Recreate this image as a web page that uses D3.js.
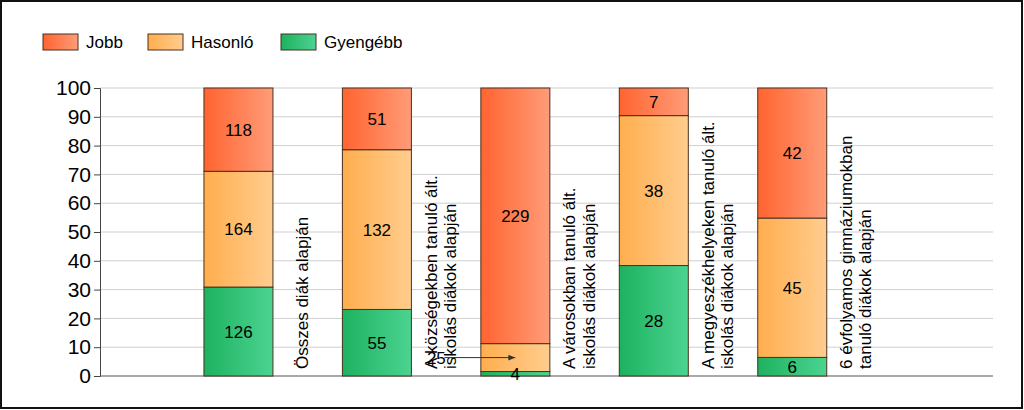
<!DOCTYPE html>
<html><head><meta charset="utf-8">
<script src="https://cdn.jsdelivr.net/npm/d3@7"></script>
<style>
html,body{margin:0;padding:0;background:#fff;}
svg{display:block;font-family:"Liberation Sans",Arial,sans-serif;}
</style></head>
<body><svg id="c" width="1024" height="410"></svg>
<script>
const categories = [
  ["Összes diák alapján"],
  ["A községekben tanuló ált.", "iskolás diákok alapján"],
  ["A városokban tanuló ált.", "iskolás diákok alapján"],
  ["A megyeszékhelyeken tanuló ált.", "iskolás diákok alapján"],
  ["6 évfolyamos gimnáziumokban", "tanuló diákok alapján"]
];
const seriesNames = ["Jobb", "Hasonló", "Gyengébb"];
const jobb     = [118, 51, 229, 7, 42];
const hasonlo  = [164, 132, 25, 38, 45];
const gyengebb = [126, 55, 4, 28, 6];
const yTicks = [0, 10, 20, 30, 40, 50, 60, 70, 80, 90, 100];
// which segment labels are called out with an arrow: [category index, series key]
const callouts = [[2, "hasonlo"]];

const colors = {
  jobb: ["#ff6430", "#ff9c78"],
  hasonlo: ["#ffae4e", "#ffcd8e"],
  gyengebb: ["#1db260", "#4cd391"]
};

const svg = d3.select("#c");
const defs = svg.append("defs");
Object.entries(colors).forEach(([k, c]) => {
  const g = defs.append("linearGradient").attr("id", "g_" + k)
    .attr("x1", "0%").attr("x2", "100%").attr("y1", "0%").attr("y2", "0%");
  g.append("stop").attr("offset", "0%").attr("stop-color", c[0]);
  g.append("stop").attr("offset", "100%").attr("stop-color", c[1]);
});
const arrowM = defs.append("marker").attr("id", "arr").attr("viewBox", "0 0 10 10")
  .attr("refX", 10).attr("refY", 5).attr("markerWidth", 7).attr("markerHeight", 7)
  .attr("markerUnits", "userSpaceOnUse").attr("orient", "auto");
arrowM.append("path").attr("d", "M0,1 L10,5 L0,9 Z").attr("fill", "#333");

// frame
svg.append("rect").attr("x", 1).attr("y", 1).attr("width", 1021).attr("height", 407)
  .attr("fill", "#fff").attr("stroke", "#111").attr("stroke-width", 2);

const plotL = 100, plotR = 993, plotT = 88, plotB = 376;
const x = d3.scaleLinear().domain([0, 6.45]).range([plotL, plotR]);
const y = d3.scaleLinear().domain([0, 100]).range([plotB, plotT]);
const barW = 69;

// grid
svg.append("g").selectAll("line").data(yTicks.filter(t => t > 0)).join("line")
  .attr("x1", plotL).attr("x2", plotR)
  .attr("y1", d => y(d)).attr("y2", d => y(d))
  .attr("stroke", "#cfcfcf").attr("stroke-width", 1);

// y axis
const yAxis = d3.axisLeft(y).tickValues(yTicks).tickSize(6).tickPadding(3);
const ya = svg.append("g").attr("transform", `translate(${plotL},0)`).call(yAxis);
ya.select(".domain").attr("stroke", "#444");
ya.selectAll(".tick line").attr("stroke", "#444");
ya.selectAll(".tick text").attr("font-size", 21).attr("fill", "#000")
  .attr("font-family", "Liberation Sans, Arial, sans-serif");
svg.append("line").attr("x1", plotL).attr("x2", plotR).attr("y1", plotB).attr("y2", plotB)
  .attr("stroke", "#555").attr("stroke-width", 1.2);

// stacked data (percent)
const keys = ["gyengebb", "hasonlo", "jobb"];
const rows = categories.map((c, i) => {
  const tot = jobb[i] + hasonlo[i] + gyengebb[i];
  return { i, tot, jobb: jobb[i] * 100 / tot, hasonlo: hasonlo[i] * 100 / tot, gyengebb: gyengebb[i] * 100 / tot,
    raw: { jobb: jobb[i], hasonlo: hasonlo[i], gyengebb: gyengebb[i] } };
});
const stack = d3.stack().keys(keys)(rows);

const gBars = svg.append("g");
stack.forEach(layer => {
  gBars.selectAll(null).data(layer).join("rect")
    .attr("x", d => x(d.data.i + 1) - barW / 2)
    .attr("width", barW)
    .attr("y", d => y(d[1]))
    .attr("height", d => y(d[0]) - y(d[1]))
    .attr("fill", `url(#g_${layer.key})`)
    .attr("stroke", "#4a3020").attr("stroke-width", 1);
});

// category labels (rotated)
const gCat = svg.append("g");
categories.forEach((lines, i) => {
  const cx = x(i + 1);
  lines.forEach((ln, k) => {
    const bx = cx + 69.5 + (k - (lines.length - 1) / 2) * 19.5;
    gCat.append("text").attr("transform", `translate(${bx},369) rotate(-90)`)
      .attr("font-size", 17).attr("fill", "#000").text(ln);
  });
});

// value labels
const gLab = svg.append("g");
stack.forEach(layer => {
  layer.forEach(d => {
    const i = d.data.i;
    const cx = x(i + 1), cy = (y(d[0]) + y(d[1])) / 2;
    const isCall = callouts.some(c => c[0] === i && c[1] === layer.key);
    if (isCall) {
      gLab.append("line").attr("x1", cx - 71).attr("x2", cx).attr("y1", cy).attr("y2", cy)
        .attr("stroke", "#333").attr("stroke-width", 1).attr("marker-end", "url(#arr)");
      gLab.append("text").attr("x", cx - 79).attr("y", cy).attr("dy", "0.36em")
        .attr("text-anchor", "middle").attr("font-size", 17).text(d.data.raw[layer.key]);
    } else {
      gLab.append("text").attr("x", cx).attr("y", cy).attr("dy", "0.36em")
        .attr("text-anchor", "middle").attr("font-size", 17).text(d.data.raw[layer.key]);
    }
  });
});

// legend
const legKeys = ["jobb", "hasonlo", "gyengebb"];
const legX = [43, 148, 281];
const gLeg = svg.append("g");
legKeys.forEach((k, j) => {
  gLeg.append("rect").attr("x", legX[j]).attr("y", 34).attr("width", 35).attr("height", 16)
    .attr("fill", `url(#g_${k})`).attr("stroke", "#4a3020").attr("stroke-width", 1);
  gLeg.append("text").attr("x", legX[j] + 43).attr("y", 42).attr("dy", "0.36em")
    .attr("font-size", 17).text(seriesNames[j]);
});
</script></body></html>
